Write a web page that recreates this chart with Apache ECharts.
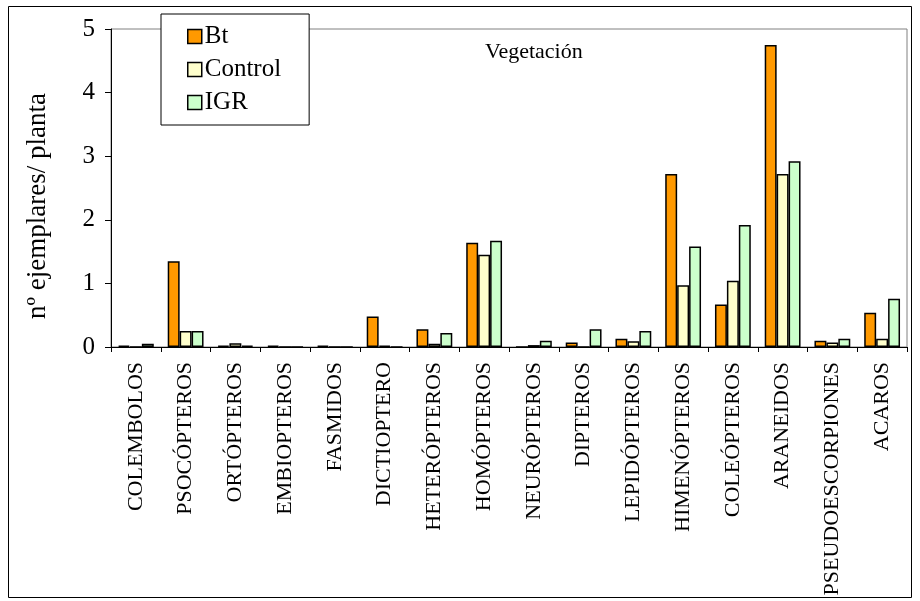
<!DOCTYPE html>
<html>
<head>
<meta charset="utf-8">
<script src="https://cdn.jsdelivr.net/npm/echarts@6/dist/echarts.min.js"></script>
<style>
html,body{margin:0;padding:0;background:#fff;}
#chart{width:920px;height:601px;}
</style>
</head>
<body>
<div id="chart"></div>
<script>
const categories = ['COLEMBOLOS','PSOCÓPTEROS','ORTÓPTEROS','EMBIOPTEROS','FASMIDOS','DICTIOPTERO','HETERÓPTEROS','HOMÓPTEROS','NEURÓPTEROS','DIPTEROS','LEPIDÓPTEROS','HIMENÓPTEROS','COLEÓPTEROS','ARANEIDOS','PSEUDOESCORPIONES','ACAROS'];
const btValues      = [0.02, 1.35, 0.02, 0.02, 0.02, 0.48, 0.28, 1.64, 0,    0.07, 0.13, 2.72, 0.67, 4.75, 0.10, 0.54];
const controlValues = [0,    0.25, 0.06, 0,    0,    0.02, 0.05, 1.45, 0.03, 0,    0.09, 0.97, 1.04, 2.72, 0.07, 0.13];
const igrValues     = [0.05, 0.25, 0.02, 0,    0,    0,    0.22, 1.67, 0.10, 0.28, 0.25, 1.58, 1.92, 2.92, 0.13, 0.76];
const yTicks = [0, 1, 2, 3, 4, 5];
const seriesNames = ['Bt', 'Control', 'IGR'];
const chartTitle = 'Vegetación';
const yAxisName = 'nº ejemplares/ planta';

const FONT = "'Liberation Serif', 'Times New Roman', serif";
const colors = ['#FF9900', '#FFFFCC', '#CCFFCC'];
const chart = echarts.init(document.getElementById('chart'), null, {renderer: 'canvas'});

function mkSeries(name, data, color) {
  return {
    name: name,
    type: 'bar',
    data: data,
    barWidth: '24%',
    barGap: '0%',
    itemStyle: {color: color, borderColor: '#000', borderWidth: 1.5},
    emphasis: {disabled: true},
    animation: false
  };
}

chart.setOption({
  animation: false,
  backgroundColor: '#fff',
  title: {
    text: chartTitle,
    left: 480, top: 36,
    textStyle: {fontFamily: FONT, fontSize: 22, fontWeight: 'normal', color: '#000'}
  },
  legend: {
    orient: 'vertical',
    left: 161, top: 14,
    padding: [10, 28, 10, 26],
    itemGap: 8,
    itemWidth: 14, itemHeight: 14,
    backgroundColor: '#fff',
    borderColor: '#000',
    borderWidth: 1,
    icon: 'rect',
    itemStyle: {borderColor: '#000', borderWidth: 1.5},
    textStyle: {fontFamily: FONT, fontSize: 25, color: '#000', padding: [0,0,0,-2]},
    data: seriesNames
  },
  grid: {
    left: 111, right: 13, top: 29, bottom: 254,
    show: true, borderColor: '#808080', borderWidth: 1, backgroundColor: 'transparent'
  },
  xAxis: {
    type: 'category',
    data: categories,
    boundaryGap: true,
    axisLine: {lineStyle: {color: '#000', width: 1}},
    axisTick: {show: true, inside: false, length: 5, alignWithLabel: false, lineStyle: {color: '#000'}},
    axisLabel: {rotate: 90, interval: 0, margin: 15, fontFamily: FONT, fontSize: 22, color: '#000'},
    splitLine: {show: false}
  },
  yAxis: {
    type: 'value',
    min: yTicks[0], max: yTicks[yTicks.length - 1], interval: 1,
    axisLine: {show: true, lineStyle: {color: '#000', width: 1}},
    axisTick: {show: true, inside: false, length: 6, lineStyle: {color: '#000'}},
    axisLabel: {margin: 16, fontFamily: FONT, fontSize: 25, color: '#000'},
    splitLine: {show: false}
  },
  graphic: [{
    type: 'rect',
    shape: {x: 8.5, y: 6.5, width: 903, height: 591},
    style: {fill: 'none', stroke: '#000', lineWidth: 1},
    silent: true,
    z: 100
  }, {
    type: 'text',
    x: 38, y: 206,
    rotation: Math.PI / 2,
    style: {text: yAxisName, fontFamily: FONT, fontSize: 27, fill: '#000', align: 'center', verticalAlign: 'middle'},
    silent: true
  }],
  series: [
    mkSeries(seriesNames[0], btValues, colors[0]),
    mkSeries(seriesNames[1], controlValues, colors[1]),
    mkSeries(seriesNames[2], igrValues, colors[2])
  ]
});
</script>
</body>
</html>
